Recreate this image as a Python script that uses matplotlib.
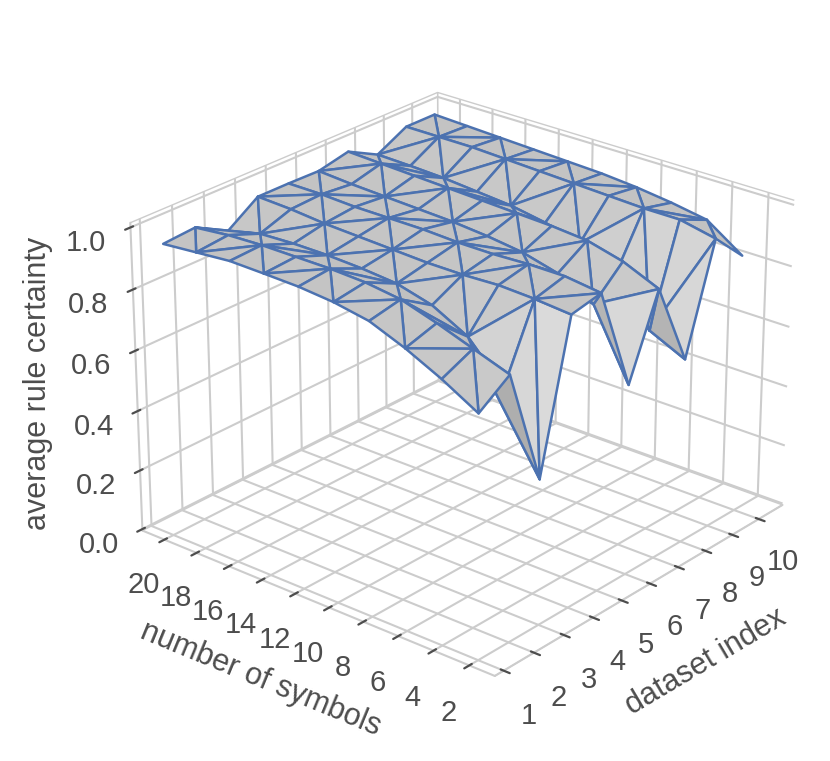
import numpy as np
import matplotlib
matplotlib.use("Agg")
import matplotlib.pyplot as plt
import matplotlib.tri as mtri
import seaborn as sns

sns.set_theme(style="whitegrid")
plt.rcParams['font.family'] = ['Liberation Sans', 'DejaVu Sans']

dataset_index = [1, 2, 3, 4, 5, 6, 7, 8, 9, 10]
num_symbols = [2, 4, 6, 8, 10, 12, 14, 16, 18, 20]

# one row per dataset index, columns follow num_symbols
certainty = [
    [0.78, 0.845, 0.90, 0.945, 0.965, 0.975, 0.978, 0.98, 0.97, 0.96],
    [0.85, 0.89, 0.93, 0.965, 0.98, 0.985, 0.985, 0.985, 0.98, 0.968],
    [0.47, 0.72, 0.84, 0.90, 0.93, 0.94, 0.945, 0.945, 0.94, 0.91],
    [0.94, 0.95, 0.955, 0.95, 0.95, 0.955, 0.96, 0.965, 0.975, 0.98],
    [0.96, 0.975, 0.975, 0.97, 0.97, 0.975, 0.975, 0.975, 0.98, 0.98],
    [0.62, 0.84, 0.90, 0.93, 0.945, 0.955, 0.96, 0.965, 0.97, 0.978],
    [0.88, 0.93, 0.96, 0.97, 0.975, 0.98, 0.985, 0.99, 0.995, 1.00],
    [0.605, 0.66, 0.80, 0.87, 0.90, 0.92, 0.93, 0.94, 0.945, 0.948],
    [0.95, 0.975, 0.975, 0.98, 0.985, 0.99, 0.995, 1.00, 1.00, 1.00],
    [0.85, 0.93, 0.95, 0.965, 0.975, 0.98, 0.985, 0.99, 0.995, 1.00],
]

xx, yy = np.meshgrid(dataset_index, num_symbols, indexing="ij")
zz = np.array(certainty)

# split each grid cell from its "even" corner so the edges fan out
n_x, n_y = zz.shape
tris = []
for i in range(n_x - 1):
    for j in range(n_y - 1):
        a = i * n_y + j
        b = a + 1
        c = a + n_y
        d = c + 1
        if (i + j) % 2 == 0:
            tris += [[a, c, d], [a, d, b]]
        else:
            tris += [[a, c, b], [b, c, d]]
tri = mtri.Triangulation(xx.ravel(), yy.ravel(), tris)

fig = plt.figure(figsize=(8.3, 7.61), dpi=100)
ax = fig.add_axes([0.076, 0.0325, 0.944, 0.944], projection="3d")
ax.set_box_aspect((4, 4, 2.92), zoom=0.995)
ax.plot_trisurf(tri, zz.ravel(), color="white", edgecolor="#4c72b0", linewidth=1.8)
ax.view_init(elev=25, azim=-140)

ax.set_xlim(0.71, 10.91)
ax.set_ylim(0.59, 21.39)
ax.set_zlim(-0.005, 1.015)
ax.set_xticks(dataset_index)
ax.set_yticks(num_symbols)
ax.set_zticks([0, 0.2, 0.4, 0.6, 0.8, 1.0])
ax.tick_params(labelsize=21, colors="#4d4d4d", pad=10)
for a in (ax.xaxis, ax.yaxis, ax.zaxis):
    a.set_pane_color((1, 1, 1, 1))
    a.pane.set_edgecolor("#cccccc")
    a.line.set_color("#cccccc")
    a.line.set_linewidth(1.5)
    a._axinfo["grid"].update(color="#cccccc", linewidth=1.5)
    a._axinfo["tick"].update(color="#4d4d4d", linewidth={True: 1.6, False: 1.0})
ax.set_xlabel("dataset index", fontsize=22, color="#4d4d4d", labelpad=24)
ax.set_ylabel("number of symbols", fontsize=22, color="#4d4d4d", labelpad=23)
ax.zaxis.set_rotate_label(False)
ax.set_zlabel("average rule certainty", fontsize=22, color="#4d4d4d", rotation=90, labelpad=19)

fig.savefig("out.png", dpi=100)
